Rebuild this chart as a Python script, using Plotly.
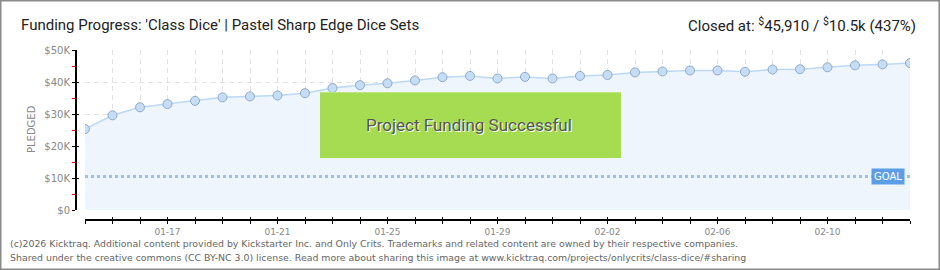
import plotly.graph_objects as go

# ---- data ----
dates = ["2026-01-14", "2026-01-15", "2026-01-16", "2026-01-17", "2026-01-18", "2026-01-19",
         "2026-01-20", "2026-01-21", "2026-01-22", "2026-01-23", "2026-01-24", "2026-01-25",
         "2026-01-26", "2026-01-27", "2026-01-28", "2026-01-29", "2026-01-30", "2026-01-31",
         "2026-02-01", "2026-02-02", "2026-02-03", "2026-02-04", "2026-02-05", "2026-02-06",
         "2026-02-07", "2026-02-08", "2026-02-09", "2026-02-10", "2026-02-11", "2026-02-12",
         "2026-02-13"]
pledged = [25300, 29600, 32100, 33100, 34100, 35200, 35500, 35800, 36500, 38100, 39000,
           39600, 40500, 41500, 41900, 41100, 41600, 41100, 41900, 42200, 43000, 43300,
           43600, 43600, 43200, 43900, 44000, 44600, 45200, 45500, 45910]
goal = 10500
x_label_dates = ["2026-01-17", "2026-01-21", "2026-01-25", "2026-01-29", "2026-02-02",
                 "2026-02-06", "2026-02-10"]
x_label_text = ["01-17", "01-21", "01-25", "01-29", "02-02", "02-06", "02-10"]
y_ticks = [0, 10000, 20000, 30000, 40000, 50000]
y_tick_labels = ["$0", "$10K", "$20K", "$30K", "$40K", "$50K"]

W, H = 940, 270
def px(x): return x / W
def py(y): return 1 - y / H

HEAD = "Roboto, sans-serif"
SMALL = "DejaVu Sans, Verdana, sans-serif"
grid_col = "#e2e2e2"
GD = "5px,4px"

fig = go.Figure()
fig.add_trace(go.Scatter(x=dates, y=pledged, mode="none", fill="tozeroy",
                         fillcolor="#eef5fd", hoverinfo="skip", showlegend=False))
fig.add_trace(go.Scatter(x=[dates[0], dates[-1]], y=[goal, goal], mode="lines",
                         line=dict(color="#9ec0e6", width=3, dash="dot"),
                         hoverinfo="skip", showlegend=False))
fig.add_trace(go.Scatter(x=dates, y=pledged, mode="lines+markers",
                         line=dict(color="#bcd8f4", width=1.5),
                         marker=dict(size=9, color="#c6ddf6",
                                     line=dict(color="#8eaacb", width=1)),
                         showlegend=False))
# empty helper traces so the offset axes get drawn
fig.add_trace(go.Scatter(x=[], y=[], xaxis="x2", yaxis="y2", showlegend=False))
fig.add_trace(go.Scatter(x=[], y=[], xaxis="x3", yaxis="y3", showlegend=False))
fig.add_trace(go.Scatter(x=[], y=[], xaxis="x4", yaxis="y3", showlegend=False))

xdom = [px(85), px(910)]
ydom = [py(210), py(50)]
xr = [dates[0], dates[-1]]
yr = [0, 50000]
xpos = py(220)
ypos = px(76)

common_off = dict(automargin=False, zeroline=False, fixedrange=True, showgrid=False)

fig.update_layout(
    width=W, height=H,
    margin=dict(l=0, r=0, t=0, b=0),
    paper_bgcolor="white", plot_bgcolor="white",
    # main axes: grid only
    xaxis=dict(type="date", domain=xdom, range=xr, anchor="y",
               tickmode="array", tickvals=dates, showticklabels=False, ticks="",
               showline=False, showgrid=True, gridcolor=grid_col, griddash=GD, gridwidth=1,
               automargin=False, zeroline=False, fixedrange=True),
    yaxis=dict(domain=ydom, range=yr, anchor="x",
               tickmode="array", tickvals=y_ticks, showticklabels=False, ticks="",
               showline=False, showgrid=True, gridcolor=grid_col, griddash=GD, gridwidth=1,
               automargin=False, zeroline=False, fixedrange=True),
    # offset x axis: line + labelled ticks
    xaxis2=dict(type="date", overlaying="x", domain=xdom, range=xr, anchor="free",
                position=xpos, tickmode="array", tickvals=x_label_dates, ticktext=x_label_text,
                ticks="outside", ticklen=3, tickcolor="black", tickwidth=1,
                showline=True, linecolor="black", linewidth=2,
                tickfont=dict(family=SMALL, size=9, color="#888"), **common_off),
    # offset y axis: line + labels + red minor ticks
    yaxis2=dict(overlaying="y", domain=ydom, range=yr, anchor="free", position=ypos,
                tickmode="array", tickvals=y_ticks, ticktext=y_tick_labels,
                ticks="outside", ticklen=3, tickcolor="black", tickwidth=1,
                minor=dict(dtick=5000, ticks="outside", ticklen=3, tickcolor="red",
                           showgrid=False),
                showline=True, linecolor="black", linewidth=2,
                tickfont=dict(family=SMALL, size=10, color="#888"), **common_off),
    # inside tick halves (all days)
    xaxis3=dict(type="date", overlaying="x", domain=xdom, range=xr, anchor="free",
                position=xpos, tickmode="array", tickvals=dates,
                ticks="inside", ticklen=3, tickcolor="black", tickwidth=1,
                showticklabels=False, showline=False, **common_off),
    # outside tick halves (all days)
    xaxis4=dict(type="date", overlaying="x", domain=xdom, range=xr, anchor="free",
                position=xpos, tickmode="array", tickvals=dates,
                ticks="outside", ticklen=3, tickcolor="black", tickwidth=1,
                showticklabels=False, showline=False, **common_off),
    yaxis3=dict(overlaying="y", domain=ydom, range=yr, anchor="free", position=ypos,
                tickmode="array", tickvals=y_ticks,
                ticks="inside", ticklen=2, tickcolor="black", tickwidth=1,
                showticklabels=False, showline=False, **common_off),
)

shapes = [
    dict(type="rect", xref="paper", yref="paper", x0=px(320), x1=px(621), y0=py(158), y1=py(92),
         fillcolor="#a6dc52", line=dict(width=0), layer="above"),
    dict(type="line", xref="paper", yref="paper", x0=px(320), x1=px(621), y0=py(92.5), y1=py(92.5),
         line=dict(color="#bde67f", width=1), layer="above"),
    dict(type="rect", xref="paper", yref="paper", x0=0, x1=1, y0=0, y1=1,
         line=dict(color="#8a8a8a", width=3), fillcolor="rgba(0,0,0,0)", layer="above"),
]
fig.update_layout(shapes=shapes)

annotations = [
    dict(text="Funding Progress: 'Class Dice' | Pastel Sharp Edge Dice Sets",
         x=px(19), y=py(25), xref="paper", yref="paper", xanchor="left", yanchor="middle",
         showarrow=False, font=dict(family=HEAD, size=15, color="#222")),
    dict(text="Closed at: <sup>$</sup>45,910 / <sup>$</sup>10.5k (437%)",
         x=px(918), y=py(25), xref="paper", yref="paper", xanchor="right", yanchor="middle",
         showarrow=False, font=dict(family=HEAD, size=15, color="#222")),
    dict(text="Project Funding Successful", x=px(469), y=py(125), xref="paper", yref="paper",
         xanchor="center", yanchor="middle", showarrow=False,
         font=dict(family=HEAD, size=17, color="#555", shadow="1px 1px 0px #ffffff")),
    dict(text="PLEDGED", x=px(31), y=py(129), xref="paper", yref="paper", textangle=-90,
         xanchor="center", yanchor="middle", showarrow=False,
         font=dict(family=SMALL, size=10, color="#888")),
    dict(text="GOAL", x=px(887.5), y=py(176), xref="paper", yref="paper",
         xanchor="center", yanchor="middle", showarrow=False, bgcolor="#5c9ee5",
         borderpad=2, font=dict(family=SMALL, size=10, color="white")),
    dict(text="(c)2026 Kicktraq. Additional content provided by Kickstarter Inc. and Only Crits. "
              "Trademarks and related content are owned by their respective companies.",
         x=px(8), y=py(243), xref="paper", yref="paper", xanchor="left", yanchor="middle",
         showarrow=False, font=dict(family=SMALL, size=9.4, color="#666")),
    dict(text="Shared under the creative commons (CC BY-NC 3.0) license. Read more about sharing "
              "this image at www.kicktraq.com/projects/onlycrits/class-dice/#sharing",
         x=px(8), y=py(257), xref="paper", yref="paper", xanchor="left", yanchor="middle",
         showarrow=False, font=dict(family=SMALL, size=9.4, color="#666")),
]
fig.update_layout(annotations=annotations)

fig.write_html("out.html")
